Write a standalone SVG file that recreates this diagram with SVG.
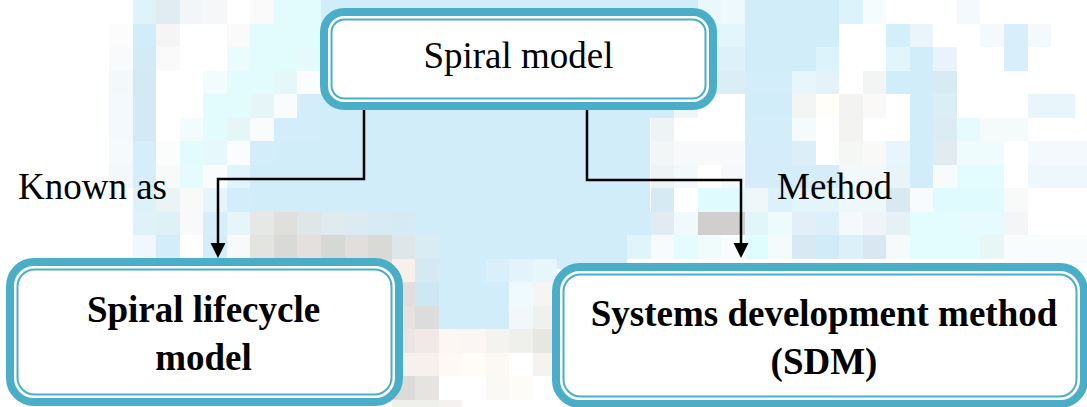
<svg xmlns="http://www.w3.org/2000/svg" width="1087" height="407" viewBox="0 0 1087 407">
<style>
.outer{fill:#ffffff;stroke:#4aaec8;stroke-width:8}
.inner{fill:none;stroke:#4aaec8;stroke-width:2}
.t{font-family:"Liberation Serif","Times New Roman",serif;font-size:37px;fill:#000}
.b{font-weight:bold;text-anchor:middle}
.conn{fill:none;stroke:#000;stroke-width:2.5}
</style>
<defs>
<polygon id="ah" points="-7.5,-15 7.5,-15 0,0" fill="#000"/>
</defs>
<g id="background">
<rect x="0" y="0" width="1087" height="407" fill="#ffffff"/>
<rect x="250" y="94" width="400" height="165" fill="#d1edfa"/>
<rect x="321" y="0" width="400" height="94" fill="#d1edfa"/>
<rect x="438" y="258" width="72" height="71" fill="#d1edfa"/>
<g shape-rendering="crispEdges">
<!-- R0 -->
<rect x="132.6" y="0" width="23.6" height="23.6" fill="#def3fa"/>
<rect x="156.1" y="0" width="23.6" height="23.6" fill="#e0ecf1"/>
<rect x="179.7" y="0" width="23.6" height="23.6" fill="#f3f6f8"/>
<rect x="203.2" y="0" width="23.6" height="23.6" fill="#f5f7f9"/>
<rect x="250.3" y="0" width="23.6" height="23.6" fill="#fafafa"/>
<rect x="273.9" y="0" width="47.2" height="23.6" fill="#e2fbfd"/>
<rect x="697.8" y="0" width="23.6" height="23.6" fill="#e8f8fb"/>
<rect x="721.3" y="0" width="23.6" height="23.6" fill="#eef9fb"/>
<rect x="744.9" y="0" width="94.2" height="23.6" fill="#d1edfa"/>
<rect x="839.1" y="0" width="23.6" height="23.6" fill="#dcf3fb"/>
<rect x="862.6" y="0" width="23.6" height="23.6" fill="#f5fcfd"/>
<rect x="956.8" y="0" width="23.6" height="23.6" fill="#f3f9fc"/>
<!-- R1 -->
<rect x="109" y="23.5" width="23.6" height="23.6" fill="#fcfcfc"/>
<rect x="132.6" y="23.5" width="23.6" height="23.6" fill="#d1edf9"/>
<rect x="156.1" y="23.5" width="23.6" height="23.6" fill="#f5f5f5"/>
<rect x="226.8" y="23.5" width="23.6" height="23.6" fill="#fafafa"/>
<rect x="250.3" y="23.5" width="70.7" height="23.6" fill="#e2fbfd"/>
<rect x="697.8" y="23.5" width="23.6" height="23.6" fill="#e3f6fb"/>
<rect x="721.3" y="23.5" width="23.6" height="23.6" fill="#e3f6fb"/>
<rect x="744.9" y="23.5" width="94.2" height="23.6" fill="#d1edfa"/>
<rect x="886.2" y="23.5" width="23.6" height="23.6" fill="#d3effa"/>
<rect x="909.7" y="23.5" width="23.6" height="23.6" fill="#eaf5fb"/>
<rect x="980.4" y="23.5" width="23.6" height="23.6" fill="#f3f9fc"/>
<rect x="1003.9" y="23.5" width="23.6" height="23.6" fill="#d8eefa"/>
<rect x="1027.5" y="23.5" width="23.6" height="23.6" fill="#f3f9fc"/>
<!-- R2 -->
<rect x="109" y="47" width="23.6" height="23.6" fill="#f7fbfc"/>
<rect x="132.6" y="47" width="23.6" height="23.6" fill="#d3ebf5"/>
<rect x="156.1" y="47" width="23.6" height="23.6" fill="#fbfafa"/>
<rect x="226.8" y="47" width="23.6" height="23.6" fill="#ebfcfd"/>
<rect x="250.3" y="47" width="47.2" height="23.6" fill="#e2fbfd"/>
<rect x="297.4" y="47" width="23.6" height="23.6" fill="#e6f9fb"/>
<rect x="697.8" y="47" width="47.2" height="23.6" fill="#dcf1f9"/>
<rect x="744.9" y="47" width="70.7" height="23.6" fill="#d1edfa"/>
<rect x="815.5" y="47" width="23.6" height="23.6" fill="#dcf3fb"/>
<rect x="886.2" y="47" width="23.6" height="23.6" fill="#e0f5fc"/>
<rect x="909.7" y="47" width="23.6" height="23.6" fill="#d1edfa"/>
<rect x="933.3" y="47" width="23.6" height="23.6" fill="#eaf3fb"/>
<rect x="1003.9" y="47" width="23.6" height="23.6" fill="#d8eefa"/>
<!-- R3 -->
<rect x="109" y="70.5" width="23.6" height="23.6" fill="#f3f9fb"/>
<rect x="132.6" y="70.5" width="23.6" height="23.6" fill="#d3eaf5"/>
<rect x="203.2" y="70.5" width="23.6" height="23.6" fill="#f3fcfd"/>
<rect x="226.8" y="70.5" width="47.2" height="23.6" fill="#e2fbfd"/>
<rect x="273.9" y="70.5" width="23.6" height="23.6" fill="#e6f7fa"/>
<rect x="297.4" y="70.5" width="23.6" height="23.6" fill="#fafcfd"/>
<rect x="697.8" y="70.5" width="47.2" height="23.6" fill="#dbedf5"/>
<rect x="744.9" y="70.5" width="47.2" height="23.6" fill="#d4edfa"/>
<rect x="792" y="70.5" width="23.6" height="23.6" fill="#e6f6fb"/>
<rect x="815.5" y="70.5" width="23.6" height="23.6" fill="#e3f3f9"/>
<rect x="862.6" y="70.5" width="23.6" height="23.6" fill="#f3f4f4"/>
<rect x="886.2" y="70.5" width="47.2" height="23.6" fill="#d1edfa"/>
<rect x="933.3" y="70.5" width="23.6" height="23.6" fill="#d8eaf4"/>
<!-- R4 -->
<rect x="109" y="94" width="23.6" height="23.6" fill="#f3f9fc"/>
<rect x="132.6" y="94" width="23.6" height="23.6" fill="#d3eaf5"/>
<rect x="203.2" y="94" width="47.2" height="23.6" fill="#e2fbfd"/>
<rect x="250.3" y="94" width="23.6" height="23.6" fill="#e6f5f8"/>
<rect x="273.9" y="94" width="23.6" height="23.6" fill="#f8fcfd"/>
<rect x="297.4" y="94" width="23.6" height="23.6" fill="#d3eefa"/>
<rect x="650" y="94" width="23.6" height="23.6" fill="#d1edfa"/>
<rect x="674.2" y="94" width="23.6" height="23.6" fill="#eef6f8"/>
<rect x="744.9" y="94" width="47.2" height="23.6" fill="#d1edfa"/>
<rect x="792" y="94" width="23.6" height="23.6" fill="#f2f5f4"/>
<rect x="815.5" y="94" width="23.6" height="23.6" fill="#fffef9"/>
<rect x="839.1" y="94" width="23.6" height="23.6" fill="#f3f4f2"/>
<rect x="862.6" y="94" width="23.6" height="23.6" fill="#faf9f8"/>
<rect x="909.7" y="94" width="23.6" height="23.6" fill="#d1edfa"/>
<rect x="933.3" y="94" width="23.6" height="23.6" fill="#dbeef6"/>
<rect x="1027.5" y="94" width="47.2" height="23.6" fill="#e8f5fb"/>
<!-- R5 -->
<rect x="109" y="117.5" width="23.6" height="23.6" fill="#f3f9fc"/>
<rect x="132.6" y="117.5" width="23.6" height="23.6" fill="#d3eaf5"/>
<rect x="179.7" y="117.5" width="23.6" height="23.6" fill="#f3fcfd"/>
<rect x="203.2" y="117.5" width="23.6" height="23.6" fill="#e2fbfd"/>
<rect x="226.8" y="117.5" width="23.6" height="23.6" fill="#e6f5f5"/>
<rect x="250.3" y="117.5" width="23.6" height="23.6" fill="#f8fcfd"/>
<rect x="273.9" y="117.5" width="47.2" height="23.6" fill="#d3eefa"/>
<rect x="650.7" y="117.5" width="23.6" height="23.6" fill="#eef3f5"/>
<rect x="744.9" y="117.5" width="47.2" height="23.6" fill="#d3edf9"/>
<rect x="792" y="117.5" width="23.6" height="23.6" fill="#f5fafd"/>
<rect x="839.1" y="117.5" width="23.6" height="23.6" fill="#f3f4f2"/>
<rect x="909.7" y="117.5" width="23.6" height="23.6" fill="#d1edfa"/>
<rect x="933.3" y="117.5" width="23.6" height="23.6" fill="#dcecf4"/>
<rect x="956.8" y="117.5" width="23.6" height="23.6" fill="#e6fbfd"/>
<rect x="980.4" y="117.5" width="47.2" height="23.6" fill="#f5fafb"/>
<!-- R6 -->
<rect x="109" y="141" width="23.6" height="23.6" fill="#f5fafb"/>
<rect x="132.6" y="141" width="23.6" height="23.6" fill="#d5eef9"/>
<rect x="156.1" y="141" width="23.6" height="23.6" fill="#fbfcfc"/>
<rect x="179.7" y="141" width="23.6" height="23.6" fill="#e2fbfd"/>
<rect x="203.2" y="141" width="23.6" height="23.6" fill="#e6f8fb"/>
<rect x="226.8" y="141" width="23.6" height="23.6" fill="#fafcfd"/>
<rect x="250.3" y="141" width="23.6" height="23.6" fill="#d3eefa"/>
<rect x="650.7" y="141" width="23.6" height="23.6" fill="#f3f6f7"/>
<rect x="674.2" y="141" width="70.7" height="23.6" fill="#f8f9fa"/>
<rect x="744.9" y="141" width="47.2" height="23.6" fill="#d5edfa"/>
<rect x="792" y="141" width="23.6" height="23.6" fill="#dceff9"/>
<rect x="839.1" y="141" width="23.6" height="23.6" fill="#f5f7f5"/>
<rect x="862.6" y="141" width="23.6" height="23.6" fill="#f9f9f8"/>
<rect x="886.2" y="141" width="23.6" height="23.6" fill="#e6f6fc"/>
<rect x="909.7" y="141" width="23.6" height="23.6" fill="#d1edfa"/>
<rect x="933.3" y="141" width="23.6" height="23.6" fill="#e3ebf2"/>
<rect x="956.8" y="141" width="47.2" height="23.6" fill="#eefcfd"/>
<rect x="1027.5" y="141" width="59.5" height="23.6" fill="#f3f9fc"/>
<!-- R7 -->
<rect x="109" y="164.5" width="23.6" height="23.6" fill="#f3f9fb"/>
<rect x="132.6" y="164.5" width="23.6" height="23.6" fill="#d5eef9"/>
<rect x="156.1" y="164.5" width="23.6" height="23.6" fill="#f7faf9"/>
<rect x="179.7" y="164.5" width="23.6" height="23.6" fill="#e6fbfd"/>
<rect x="203.2" y="164.5" width="23.6" height="23.6" fill="#f9fcfc"/>
<rect x="226.8" y="164.5" width="23.6" height="23.6" fill="#e0f5fb"/>
<rect x="650.7" y="164.5" width="23.6" height="23.6" fill="#eef3f5"/>
<rect x="674.2" y="164.5" width="23.6" height="23.6" fill="#f3f9fb"/>
<rect x="697.8" y="164.5" width="23.6" height="23.6" fill="#ffffff"/>
<rect x="721.3" y="164.5" width="23.6" height="23.6" fill="#f7f8fa"/>
<rect x="744.9" y="164.5" width="94.2" height="23.6" fill="#d5edfa"/>
<rect x="839.1" y="164.5" width="47.2" height="23.6" fill="#f3f9fa"/>
<rect x="886.2" y="164.5" width="23.6" height="23.6" fill="#e9f4f9"/>
<rect x="909.7" y="164.5" width="23.6" height="23.6" fill="#d1edfa"/>
<rect x="933.3" y="164.5" width="23.6" height="23.6" fill="#f7fbfc"/>
<rect x="956.8" y="164.5" width="47.2" height="23.6" fill="#e3fcfd"/>
<rect x="1027.5" y="164.5" width="59.5" height="23.6" fill="#eef8fc"/>
<!-- R8 -->
<rect x="132.6" y="188" width="23.6" height="23.6" fill="#dcf1f8"/>
<rect x="156.1" y="188" width="23.6" height="23.6" fill="#eaf4f5"/>
<rect x="179.7" y="188" width="23.6" height="23.6" fill="#f7faf9"/>
<rect x="203.2" y="188" width="23.6" height="23.6" fill="#e6f5fa"/>
<rect x="226.8" y="188" width="23.6" height="23.6" fill="#d3eefa"/>
<rect x="650.7" y="188" width="23.6" height="23.6" fill="#d5eaf3"/>
<rect x="697.8" y="188" width="47.2" height="23.6" fill="#e0fbfd"/>
<rect x="744.9" y="188" width="23.6" height="23.6" fill="#f0f7fa"/>
<rect x="768.4" y="188" width="23.6" height="23.6" fill="#dcf1fa"/>
<rect x="792" y="188" width="47.2" height="23.6" fill="#e3f5fb"/>
<rect x="839.1" y="188" width="47.2" height="23.6" fill="#eef8fb"/>
<rect x="886.2" y="188" width="23.6" height="23.6" fill="#d8e9f1"/>
<rect x="909.7" y="188" width="23.6" height="23.6" fill="#f7fbfc"/>
<rect x="933.3" y="188" width="70.7" height="23.6" fill="#e0fbfd"/>
<rect x="1003.9" y="188" width="23.6" height="23.6" fill="#f8f9f9"/>
<!-- R9 -->
<rect x="132.6" y="211.5" width="23.6" height="23.6" fill="#dff2f9"/>
<rect x="156.1" y="211.5" width="23.6" height="23.6" fill="#def1f7"/>
<rect x="179.7" y="211.5" width="23.6" height="23.6" fill="#f8fafa"/>
<rect x="203.2" y="211.5" width="23.6" height="23.6" fill="#d6eefa"/>
<rect x="226.8" y="211.5" width="23.6" height="23.6" fill="#e6f5fa"/>
<rect x="250.3" y="211.5" width="23.6" height="23.6" fill="#e6e8e5"/>
<rect x="273.9" y="211.5" width="23.6" height="23.6" fill="#dfdfdc"/>
<rect x="297.4" y="211.5" width="23.6" height="23.6" fill="#e0e5e7"/>
<rect x="321" y="211.5" width="23.6" height="23.6" fill="#e0ebf0"/>
<rect x="344.5" y="211.5" width="23.6" height="23.6" fill="#dcebf2"/>
<rect x="368.1" y="211.5" width="23.6" height="23.6" fill="#d8ebf4"/>
<rect x="391.6" y="211.5" width="23.6" height="23.6" fill="#d6eaf3"/>
<rect x="415.2" y="211.5" width="235.5" height="23.6" fill="#d1edfa"/>
<rect x="650.7" y="211.5" width="23.6" height="23.6" fill="#e3ebf2"/>
<rect x="674.2" y="211.5" width="23.6" height="23.6" fill="#f0f9fb"/>
<rect x="697.8" y="211.5" width="47.2" height="23.6" fill="#d0cfcd"/>
<rect x="744.9" y="211.5" width="23.6" height="23.6" fill="#e0f6f9"/>
<rect x="768.4" y="211.5" width="23.6" height="23.6" fill="#eefbfc"/>
<rect x="792" y="211.5" width="23.6" height="23.6" fill="#e3eff8"/>
<rect x="815.5" y="211.5" width="23.6" height="23.6" fill="#dcf0fb"/>
<rect x="839.1" y="211.5" width="23.6" height="23.6" fill="#f3f9fc"/>
<rect x="862.6" y="211.5" width="23.6" height="23.6" fill="#eef4f8"/>
<rect x="886.2" y="211.5" width="23.6" height="23.6" fill="#e6f1f5"/>
<rect x="909.7" y="211.5" width="47.2" height="23.6" fill="#e3fcfd"/>
<rect x="956.8" y="211.5" width="47.2" height="23.6" fill="#e6fbfd"/>
<rect x="1003.9" y="211.5" width="23.6" height="23.6" fill="#f3f5f7"/>
<!-- R10 -->
<rect x="132.6" y="235" width="23.6" height="23.6" fill="#f0f7fd"/>
<rect x="156.1" y="235" width="23.6" height="23.6" fill="#d3eefa"/>
<rect x="203.2" y="235" width="23.6" height="23.6" fill="#d3eefa"/>
<rect x="226.8" y="235" width="23.6" height="23.6" fill="#f8f9f9"/>
<rect x="250.3" y="235" width="23.6" height="23.6" fill="#e3e3e0"/>
<rect x="273.9" y="235" width="23.6" height="23.6" fill="#d9d9d7"/>
<rect x="297.4" y="235" width="23.6" height="23.6" fill="#e3e0dd"/>
<rect x="321" y="235" width="23.6" height="23.6" fill="#d6d8d4"/>
<rect x="344.5" y="235" width="23.6" height="23.6" fill="#e0dfdc"/>
<rect x="368.1" y="235" width="23.6" height="23.6" fill="#d9d9d6"/>
<rect x="391.6" y="235" width="23.6" height="23.6" fill="#dfe6e9"/>
<rect x="415.2" y="235" width="23.6" height="23.6" fill="#d9ecf4"/>
<rect x="438.7" y="235" width="188.4" height="23.6" fill="#d1edfa"/>
<rect x="627.1" y="235" width="23.6" height="23.6" fill="#e0f4fb"/>
<rect x="650.7" y="235" width="23.6" height="23.6" fill="#f7fbfc"/>
<rect x="674.2" y="235" width="23.6" height="23.6" fill="#e3fcfd"/>
<rect x="697.8" y="235" width="23.6" height="23.6" fill="#f0fbfc"/>
<rect x="721.3" y="235" width="23.6" height="23.6" fill="#f8fcfd"/>
<rect x="744.9" y="235" width="23.6" height="23.6" fill="#e0fdfd"/>
<rect x="768.4" y="235" width="23.6" height="23.6" fill="#f5fafb"/>
<rect x="792" y="235" width="23.6" height="23.6" fill="#d9e9f3"/>
<rect x="815.5" y="235" width="23.6" height="23.6" fill="#d1ebf9"/>
<rect x="839.1" y="235" width="23.6" height="23.6" fill="#dcf0fa"/>
<rect x="862.6" y="235" width="23.6" height="23.6" fill="#d9e7f0"/>
<rect x="886.2" y="235" width="23.6" height="23.6" fill="#f5fafb"/>
<rect x="909.7" y="235" width="70.7" height="23.6" fill="#e3fcfd"/>
<rect x="980.4" y="235" width="23.6" height="23.6" fill="#e8f6f6"/>
<rect x="1003.9" y="235" width="83.1" height="28" fill="#f8fcfc"/>
<rect x="132.6" y="258.5" width="23.6" height="10" fill="#f0f7fd"/>
<rect x="250.3" y="258.5" width="141.3" height="10" fill="#ddddda"/>
<!-- R11+ between boxes -->
<rect x="391.6" y="258.5" width="23.6" height="23.6" fill="#f9f0eb"/>
<rect x="415.2" y="258.5" width="23.6" height="23.6" fill="#d6e9f3"/>
<rect x="485.8" y="258.5" width="23.6" height="23.6" fill="#d9effa"/>
<rect x="509.4" y="258.5" width="23.6" height="23.6" fill="#e3f3fb"/>
<rect x="532.9" y="258.5" width="23.6" height="23.6" fill="#e6f7fc"/>
<rect x="556.5" y="258.5" width="70.6" height="10" fill="#d1edfa"/>
<rect x="391.6" y="282" width="23.6" height="23.6" fill="#e3dedb"/>
<rect x="415.2" y="282" width="23.6" height="23.6" fill="#cfe7f2"/>
<rect x="509.4" y="282" width="23.6" height="23.6" fill="#eefafd"/>
<rect x="532.9" y="282" width="23.6" height="23.6" fill="#f5f5f3"/>
<rect x="391.6" y="305.5" width="23.6" height="23.6" fill="#e6e2df"/>
<rect x="415.2" y="305.5" width="23.6" height="23.6" fill="#dcdcdc"/>
<rect x="509.4" y="305.5" width="23.6" height="23.6" fill="#f2f8fa"/>
<rect x="532.9" y="305.5" width="23.6" height="23.6" fill="#eef1ee"/>
<rect x="391.6" y="329" width="23.6" height="23.6" fill="#ebe5e2"/>
<rect x="415.2" y="329" width="23.6" height="23.6" fill="#f0e9e7"/>
<rect x="438.7" y="329" width="23.6" height="23.6" fill="#fcf7f3"/>
<rect x="462.3" y="329" width="23.6" height="23.6" fill="#fbf6f3"/>
<rect x="485.8" y="329" width="23.6" height="23.6" fill="#f5f3ef"/>
<rect x="509.4" y="329" width="23.6" height="23.6" fill="#efefec"/>
<rect x="532.9" y="329" width="23.6" height="23.6" fill="#e6e7e3"/>
<rect x="391.6" y="352.5" width="47.2" height="23.6" fill="#f7f1ed"/>
<rect x="438.7" y="352.5" width="23.6" height="23.6" fill="#fff9f5"/>
<rect x="462.3" y="352.5" width="23.6" height="23.6" fill="#fffcf6"/>
<rect x="485.8" y="352.5" width="23.6" height="23.6" fill="#fcf8f3"/>
<rect x="532.9" y="352.5" width="23.6" height="23.6" fill="#f5f2ef"/>
<rect x="391.6" y="376" width="23.6" height="23.6" fill="#dddbd8"/>
<rect x="415.2" y="376" width="23.6" height="23.6" fill="#e6e4e1"/>
<rect x="485.8" y="376" width="23.6" height="23.6" fill="#fbf9f5"/>
<rect x="509.4" y="376" width="23.6" height="23.6" fill="#fefcf6"/>
<rect x="391.6" y="399.5" width="47.2" height="8" fill="#efefec"/>
<rect x="438.7" y="399.5" width="23.6" height="8" fill="#f5f1ef"/>
</g>
</g>
<g id="connectors">
<path class="conn" d="M364 100 V179 H218 V244"/>
<use href="#ah" x="218" y="258"/>
<path class="conn" d="M587 100 V180 H741 V244"/>
<use href="#ah" x="741" y="258"/>
</g>
<g id="node-spiral-model">
<rect class="outer" x="324" y="12" width="389" height="94" rx="20"/>
<rect class="inner" x="331.5" y="19.5" width="374" height="79" rx="13"/>
<text class="t" x="518.5" y="68" text-anchor="middle">Spiral model</text>
</g>
<g id="label-known-as">
<text class="t" x="18" y="199">Known as</text>
</g>
<g id="label-method">
<text class="t" x="777" y="199">Method</text>
</g>
<g id="node-spiral-lifecycle">
<rect class="outer" x="10" y="262" width="389" height="140" rx="24"/>
<rect class="inner" x="17.5" y="269.5" width="374" height="125" rx="17"/>
<text class="t b" x="203.5" y="322">Spiral lifecycle</text>
<text class="t b" x="203.5" y="370">model</text>
</g>
<g id="node-sdm">
<rect class="outer" x="556" y="267" width="528" height="137" rx="24"/>
<rect class="inner" x="563.5" y="274.5" width="513" height="122" rx="17"/>
<text class="t b" x="824" y="326">Systems development method</text>
<text class="t b" x="824" y="374">(SDM)</text>
</g>
</svg>
